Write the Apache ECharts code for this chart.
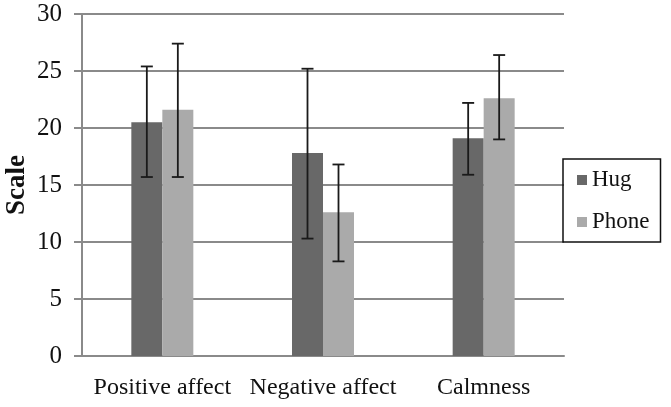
<!DOCTYPE html>
<html>
<head>
<meta charset="utf-8">
<script src="https://cdn.jsdelivr.net/npm/echarts@6/dist/echarts.min.js"></script>
<style>
  html, body { margin: 0; padding: 0; background: #fff; }
  #chart { width: 671px; height: 407px; }
</style>
</head>
<body>
<div id="chart"></div>
<script>
// 数据
const categories = ['Positive affect', 'Negative affect', 'Calmness']
const hugValues = [20.5, 17.8, 19.1]
const phoneValues = [21.6, 12.6, 22.6]
// error bars [low, high]
const hugErr = [[15.7, 25.4], [10.3, 25.2], [15.9, 22.2]]
const phoneErr = [[15.7, 27.4], [8.3, 16.8], [19.0, 26.4]]
const yTicks = [0, 5, 10, 15, 20, 25, 30]

const BAR_W = 31
const FONT = '"Liberation Serif", "DejaVu Serif", serif'

const chart = echarts.init(document.getElementById('chart'))

// error bar renderer, offset = horizontal shift from category centre
const makeErrRender = (offset) => (params, api) => {
  const lowPt = api.coord([api.value(0), api.value(1)])
  const highPt = api.coord([api.value(0), api.value(2)])
  const x = lowPt[0] + offset
  const cap = 6
  const style = { stroke: '#1a1a1a', lineWidth: 1.8 }
  return {
    type: 'group',
    children: [
      { type: 'line', shape: { x1: x, y1: highPt[1], x2: x, y2: lowPt[1] }, style },
      { type: 'line', shape: { x1: x - cap, y1: highPt[1], x2: x + cap, y2: highPt[1] }, style },
      { type: 'line', shape: { x1: x - cap, y1: lowPt[1], x2: x + cap, y2: lowPt[1] }, style }
    ]
  }
}

const option = {
  animation: false,
  backgroundColor: '#fff',
  grid: { left: 82, right: 107, top: 14, bottom: 51, outerBoundsMode: 'none' },
  legend: {
    data: ['Hug', 'Phone'],
    orient: 'vertical',
    left: 563,
    top: 159,
    icon: 'rect',
    itemWidth: 10,
    itemHeight: 10,
    itemGap: 18,
    padding: [9, 11, 8, 14],
    borderColor: '#111',
    borderWidth: 1.5,
    textStyle: { fontFamily: FONT, fontSize: 23, color: '#111', lineHeight: 24 }
  },
  xAxis: {
    type: 'category',
    data: categories,
    axisLine: { lineStyle: { color: '#8a8a8a', width: 2 } },
    axisTick: { show: false },
    axisLabel: { fontFamily: FONT, fontSize: 24, color: '#111', margin: 20, interval: 0 }
  },
  yAxis: {
    type: 'value',
    min: yTicks[0],
    max: yTicks[yTicks.length - 1],
    interval: 5,
    name: 'Scale',
    nameLocation: 'middle',
    nameGap: 51,
    nameMoveOverlap: false,
    nameTextStyle: { fontFamily: FONT, fontSize: 27, fontWeight: 'bold', color: '#111' },
    axisLine: { show: true, lineStyle: { color: '#8a8a8a', width: 2 } },
    axisTick: { show: true, length: 8, lineStyle: { color: '#8a8a8a', width: 2 } },
    axisLabel: { fontFamily: FONT, fontSize: 25, color: '#111', margin: 20 },
    splitLine: { lineStyle: { color: '#8a8a8a', width: 2 } }
  },
  series: [
    {
      name: 'Hug', type: 'bar', data: hugValues,
      barWidth: BAR_W, barGap: '0%',
      itemStyle: { color: '#686868' }
    },
    {
      name: 'Phone', type: 'bar', data: phoneValues,
      barWidth: BAR_W, barGap: '0%',
      itemStyle: { color: '#aaaaaa' }
    },
    {
      name: 'HugErr', type: 'custom', z: 10,
      renderItem: makeErrRender(-BAR_W / 2),
      data: hugErr.map((e, i) => [i, e[0], e[1]]),
      encode: { x: 0, y: [1, 2] }
    },
    {
      name: 'PhoneErr', type: 'custom', z: 10,
      renderItem: makeErrRender(BAR_W / 2),
      data: phoneErr.map((e, i) => [i, e[0], e[1]]),
      encode: { x: 0, y: [1, 2] }
    }
  ]
}

chart.setOption(option)
</script>
</body>
</html>
